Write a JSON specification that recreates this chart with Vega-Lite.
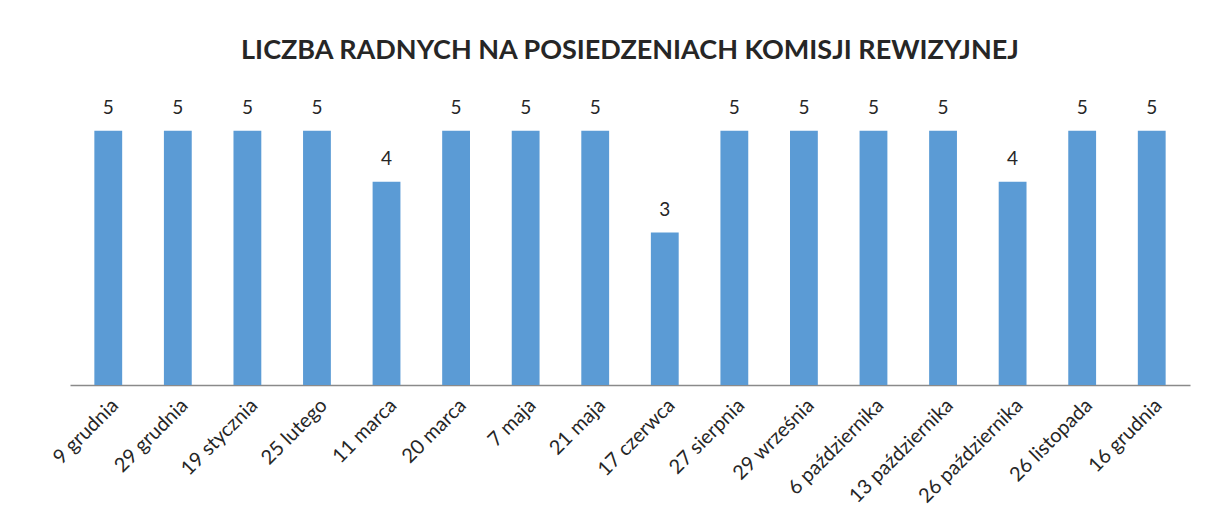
{
  "$schema": "https://vega.github.io/schema/vega-lite/v6.json",
  "autosize": "none",
  "width": 1120,
  "height": 305,
  "padding": {"left": 70, "top": 80, "right": 25, "bottom": 137},
  "background": "white",
  "config": {"view": {"stroke": null}, "font": "Lato"},
  "title": {
    "text": "LICZBA RADNYCH NA POSIEDZENIACH KOMISJI REWIZYJNEJ",
    "fontSize": 27,
    "fontWeight": "bold",
    "color": "#262626",
    "font": "Lato",
    "anchor": "middle",
    "offset": 15
  },
  "data": {
    "values": [
      {"data": "9 grudnia", "liczba": 5},
      {"data": "29 grudnia", "liczba": 5},
      {"data": "19 stycznia", "liczba": 5},
      {"data": "25 lutego", "liczba": 5},
      {"data": "11 marca", "liczba": 4},
      {"data": "20 marca", "liczba": 5},
      {"data": "7 maja", "liczba": 5},
      {"data": "21 maja", "liczba": 5},
      {"data": "17 czerwca", "liczba": 3},
      {"data": "27 sierpnia", "liczba": 5},
      {"data": "29 września", "liczba": 5},
      {"data": "6 października", "liczba": 5},
      {"data": "13 października", "liczba": 5},
      {"data": "26 października", "liczba": 4},
      {"data": "26 listopada", "liczba": 5},
      {"data": "16 grudnia", "liczba": 5}
    ]
  },
  "encoding": {
    "x": {
      "field": "data",
      "type": "nominal",
      "sort": null,
      "scale": {"paddingInner": 0.6, "paddingOuter": 0.35},
      "axis": {
        "title": null,
        "labelAngle": -45,
        "labelFontSize": 20,
        "labelColor": "#262626",
        "labelFont": "Lato",
        "ticks": false,
        "domainColor": "#8a8a8a",
        "domainWidth": 1.5,
        "labelPadding": 10,
        "labelOverlap": false
      }
    },
    "y": {
      "field": "liczba",
      "type": "quantitative",
      "scale": {"domain": [0, 6]},
      "axis": null
    }
  },
  "layer": [
    {"mark": {"type": "bar", "color": "#5b9bd5"}},
    {
      "mark": {"type": "text", "baseline": "bottom", "dy": -13, "fontSize": 19, "color": "#262626", "font": "Lato"},
      "encoding": {"text": {"field": "liczba", "type": "quantitative"}}
    }
  ]
}
